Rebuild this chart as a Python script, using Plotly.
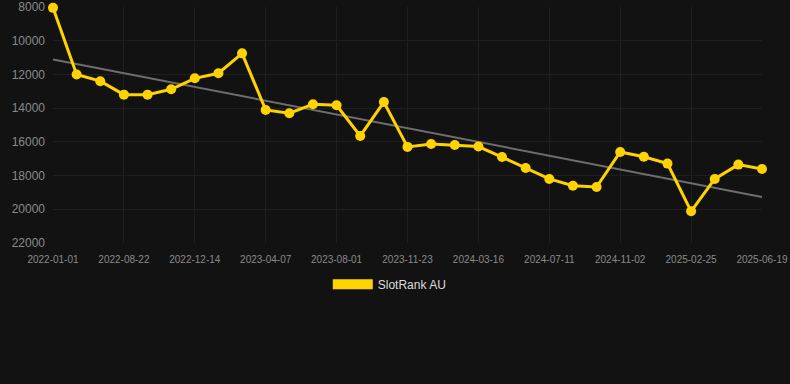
import numpy as np
import plotly.graph_objects as go

tick_labels = ["2022-01-01", "2022-08-22", "2022-12-14", "2023-04-07", "2023-08-01",
               "2023-11-23", "2024-03-16", "2024-07-11", "2024-11-02", "2025-02-25", "2025-06-19"]
rank_values = [8050, 12000, 12400, 13200, 13200, 12880, 12230, 11930, 10750, 14110,
               14300, 13770, 13830, 15650, 13640, 16300, 16130, 16190, 16280, 16900,
               17550, 18200, 18600, 18680, 16600, 16880, 17290, 20120, 18200, 17350, 17610]
y_ticks = [8000, 10000, 12000, 14000, 16000, 18000, 20000, 22000]
series_name = "SlotRank AU"

x_idx = np.arange(len(rank_values))
slope, intercept = np.polyfit(x_idx, rank_values, 1)
trend = slope * x_idx + intercept

fig = go.Figure()
fig.add_trace(go.Scatter(x=x_idx, y=trend, mode="lines",
                         line=dict(color="#6e6e6e", width=2), showlegend=False, hoverinfo="skip"))
fig.add_trace(go.Scatter(x=x_idx, y=rank_values, mode="lines+markers", name=series_name,
                         line=dict(color="#FFD300", width=3), marker=dict(size=10, color="#FFD300"),
                         showlegend=False, cliponaxis=False))
fig.add_trace(go.Scatter(x=[None], y=[None], mode="lines", name=series_name,
                         line=dict(color="#FFD300", width=12), showlegend=True))

fig.update_layout(
    width=790, height=384,
    paper_bgcolor="#121212", plot_bgcolor="#121212",
    margin=dict(l=53, r=28, t=7, b=141, autoexpand=False),
    font=dict(family="Arial, Liberation Sans, sans-serif", color="#999999"),
    xaxis=dict(range=[0, 30], tickvals=list(range(0, 31, 3)), ticktext=tick_labels,
               showgrid=True, gridcolor="#1f1f1f", zeroline=False, showline=False, automargin=False,
               tickfont=dict(size=10, color="#8a8a8a"), ticks="", ticklen=0, ticklabelstandoff=9),
    yaxis=dict(range=[22000, 8000], tickvals=y_ticks, tickformat="d",
               showgrid=True, gridcolor="#1f1f1f", zeroline=False, showline=False, automargin=False,
               tickfont=dict(size=12, color="#8a8a8a"), ticks="", ticklen=0, ticklabelstandoff=7),
    legend=dict(orientation="h", x=0.475, xanchor="center", y=-0.113, yanchor="top",
                itemwidth=40,
                font=dict(size=12, color="#dddddd"), bgcolor="rgba(0,0,0,0)"),
    showlegend=True,
)
fig.write_html("out.html", config={"displayModeBar": False},
               post_script="document.body.style.margin='0';document.body.style.background='#121212';")
